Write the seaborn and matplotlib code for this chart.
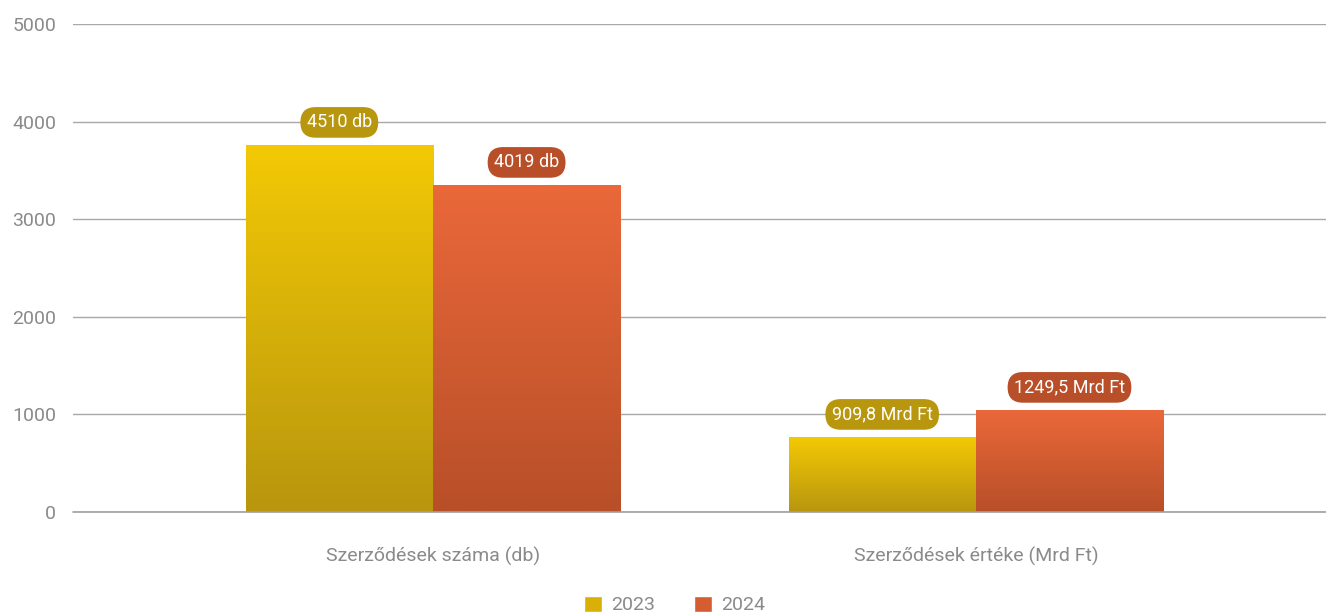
import numpy as np
import pandas as pd
import matplotlib
matplotlib.use("Agg")
import matplotlib.pyplot as plt
import seaborn as sns
from matplotlib.colors import LinearSegmentedColormap
from matplotlib.patches import Patch

# ---- data ----
categories = ["Szerződések száma (db)", "Szerződések értéke (Mrd Ft)"]
years = ["2023", "2024"]
bar_heights_2023 = [3757, 765]
bar_heights_2024 = [3347, 1042]
labels_2023 = ["4510 db", "909,8 Mrd Ft"]
labels_2024 = ["4019 db", "1249,5 Mrd Ft"]
y_ticks = [0, 1000, 2000, 3000, 4000, 5000]

df = pd.DataFrame({
    "category": categories * 2,
    "year": [years[0]] * 2 + [years[1]] * 2,
    "value": bar_heights_2023 + bar_heights_2024,
    "label": labels_2023 + labels_2024,
})

top_cols = {"2023": "#F3C905", "2024": "#EA683A"}
bot_cols = {"2023": "#B8960E", "2024": "#B84F28"}
label_cols = {"2023": "#B8960E", "2024": "#B84F28"}

sns.set_theme(style="white")
plt.rcParams["font.family"] = ["Roboto", "DejaVu Sans"]

fig = plt.figure(figsize=(13.26, 6.15), dpi=100)
ax = fig.add_axes([73 / 1326, 103 / 615, 1 - 73 / 1326, (512 - 24) / 615])

sns.barplot(data=df, x="category", y="value", hue="year", order=categories,
            hue_order=years, palette=top_cols, width=0.69, dodge=True,
            saturation=1, legend=False, ax=ax, zorder=3)

xlim = (-0.663, 1.645)
ylim = (0, 5000)

for i, container in enumerate(ax.containers):
    yr = years[i]
    cmap = LinearSegmentedColormap.from_list(yr, [bot_cols[yr], top_cols[yr]])
    lbls = labels_2023 if i == 0 else labels_2024
    for j, bar in enumerate(container):
        x0, w, h = bar.get_x(), bar.get_width(), bar.get_height()
        grad = np.linspace(0, 1, 256).reshape(-1, 1)
        im = ax.imshow(grad, extent=[x0, x0 + w, 0, h], origin="lower",
                       aspect="auto", cmap=cmap, zorder=3)
        im.set_clip_path(bar)
        bar.set_facecolor("none")
        bar.set_edgecolor("none")
        ax.annotate(lbls[j], (x0 + w / 2, h), xytext=(0, 16.5),
                    textcoords="offset points", ha="center", va="center",
                    fontsize=13, color="white", zorder=5,
                    bbox=dict(boxstyle="round,pad=0.35,rounding_size=0.85",
                              fc=label_cols[yr], ec="none"))

ax.set_xlim(*xlim)
ax.set_ylim(*ylim)
ax.set_yticks(y_ticks)
ax.set_yticklabels([str(t) for t in y_ticks])
ax.yaxis.grid(True, color="#a8a8a8", linewidth=1)
ax.axhline(0, color="#a0a0a0", linewidth=1.2, clip_on=False, zorder=4)
ax.set_axisbelow(True)
for s in ax.spines.values():
    s.set_visible(False)
ax.tick_params(axis="y", length=0, pad=12, labelsize=14, labelcolor="#8a8a8a")
ax.tick_params(axis="x", length=0, pad=25, labelsize=14, labelcolor="#8a8a8a")
ax.set_xlabel("")
ax.set_ylabel("")

handles = [Patch(facecolor="#D8B008", label="2023"),
           Patch(facecolor="#D45E30", label="2024")]
leg = fig.legend(handles=handles, loc="center", bbox_to_anchor=(675 / 1326, 10 / 615),
                 ncol=2, frameon=False, fontsize=14, handlelength=0.9,
                 handleheight=0.9, handletextpad=0.5, columnspacing=2.0)
for t in leg.get_texts():
    t.set_color("#8a8a8a")

fig.savefig("out.png", dpi=100)
